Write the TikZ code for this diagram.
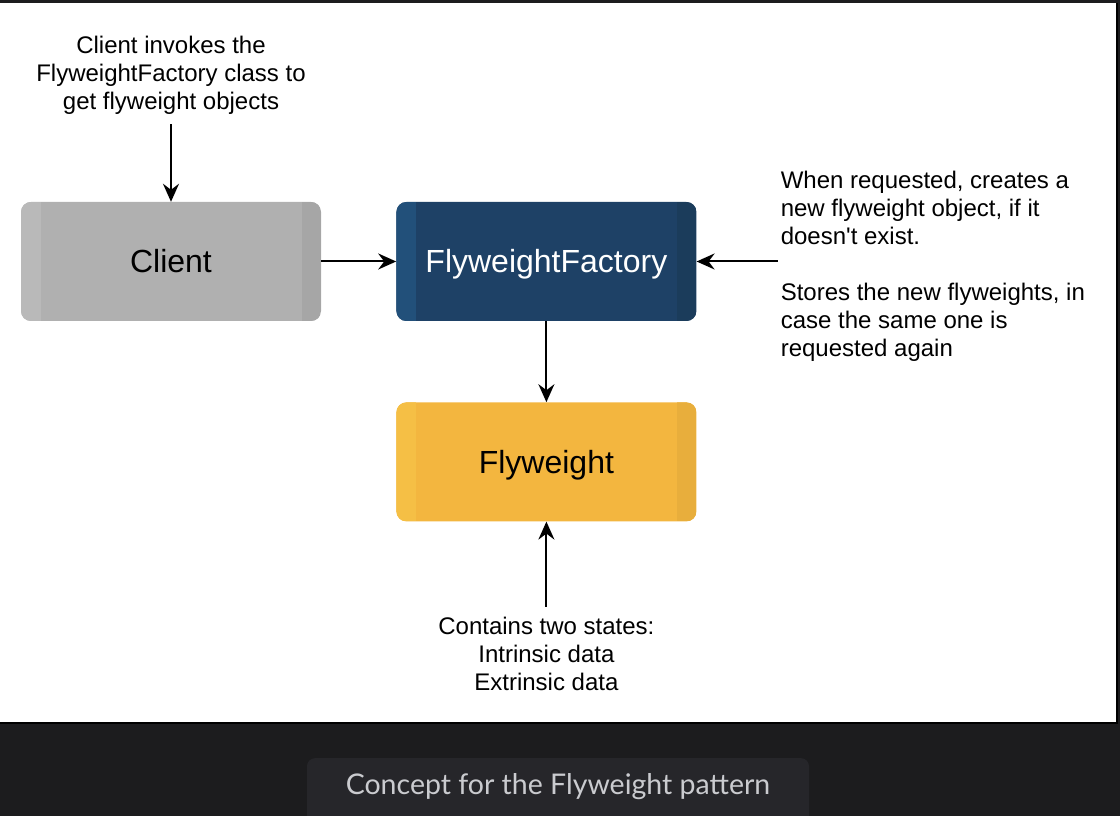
\documentclass[tikz,border=0pt]{standalone}
\usepackage{fontspec}
\setmainfont{Liberation Sans}[Ligatures=TeXOff]
\newfontfamily\captionfont{Lato}
\usetikzlibrary{arrows.meta,
                positioning}
\definecolor{pagedark}{HTML}{1C1C1E}
\definecolor{captionbg}{HTML}{26262A}
\definecolor{captiontxt}{HTML}{CACBCF}
\definecolor{clientmid}{HTML}{B0B0B0}
\definecolor{clientleft}{HTML}{B9B9B9}
\definecolor{clientright}{HTML}{A6A6A6}
\definecolor{factorymid}{HTML}{1E4166}
\definecolor{factoryleft}{HTML}{22507A}
\definecolor{factoryright}{HTML}{1B3C5B}
\definecolor{flymid}{HTML}{F3B63F}
\definecolor{flyleft}{HTML}{F5BF45}
\definecolor{flyright}{HTML}{E8AE3C}
\tikzset{process/.style =
   {rectangle,
    rounded corners=10pt,
    text centered,
    minimum width=300pt,
    minimum height=119pt,
    text height=23pt,
    text depth=0pt,
    font=\fontsize{32}{36}\selectfont}}
\tikzset{process-strips/.style 2 args =
   {path picture={
      \fill[#1, sharp corners] (path picture bounding box.south west) rectangle
                ([xshift=20pt]path picture bounding box.north west);
      \fill[#2, sharp corners] ([xshift=-19pt]path picture bounding box.south east) rectangle
                (path picture bounding box.north east);}}}
\tikzset{note/.style =
   {align=center,
    inner sep=10pt,
    font=\fontsize{24}{28}\selectfont}}
\tikzset{captionbox/.style =
   {rectangle,
    fill=captionbg,
    rounded corners=8pt}}
\tikzset{arrow/.style = {draw, line width=2pt, -{Stealth[length=18pt,width=16pt,inset=6pt]}}}

\begin{document}
\begin{tikzpicture}[auto, x=1pt, y=1pt]
    \useasboundingbox (0,0) rectangle (1120,816);
    \fill[pagedark] (0,0) rectangle (1120,816);
    \fill[white] (0,93) rectangle (1117,813);
    \draw[line width=2.5pt] (0,93) -- (1117,93) -- (1117,813);

    \node [process,
           fill=clientmid,
           process-strips={clientleft}{clientright}] (client) at (171,554.5) {Client};

    \node [process,
           fill=factorymid,
           text=white,
           process-strips={factoryleft}{factoryright},
           right = 75pt of client] (factory) {FlyweightFactory};

    \node [process,
           fill=flymid,
           process-strips={flyleft}{flyright},
           below = 81pt of factory] (flyweight) {Flyweight};

    \node [note,
           above = 77.6pt of client] (invoke-note)
    {Client invokes the\\FlyweightFactory class to\\get flyweight objects};

    \node [note,
           align=left,
           inner xsep=3pt,
           right = 81pt of factory,
           yshift=-4.5pt] (request-note)
    {When requested, creates a\\new flyweight object, if it\\doesn't exist.\\[28pt]
     Stores the new flyweights, in\\case the same one is\\requested again};

    \node [note,
           below = 85pt of flyweight] (state-note)
    {Contains two states:\\Intrinsic data\\Extrinsic data};

    \draw [arrow] (invoke-note) -- (client);
    \draw [arrow] (client) -- (factory);
    \draw [arrow] (request-note.west |- factory) -- (factory);
    \draw [arrow] (factory) -- (flyweight);
    \draw [arrow] (state-note) -- (flyweight);

    \node [captionbox,
           anchor=north,
           minimum width=502pt,
           minimum height=80pt] (caption-box) at (558,58) {};
    \node [font=\captionfont\fontsize{28.5}{32}\selectfont,
           text=captiontxt] (caption) at (caption-box.north |- 0,29) {Concept for the Flyweight pattern};
\end{tikzpicture}
\end{document}
